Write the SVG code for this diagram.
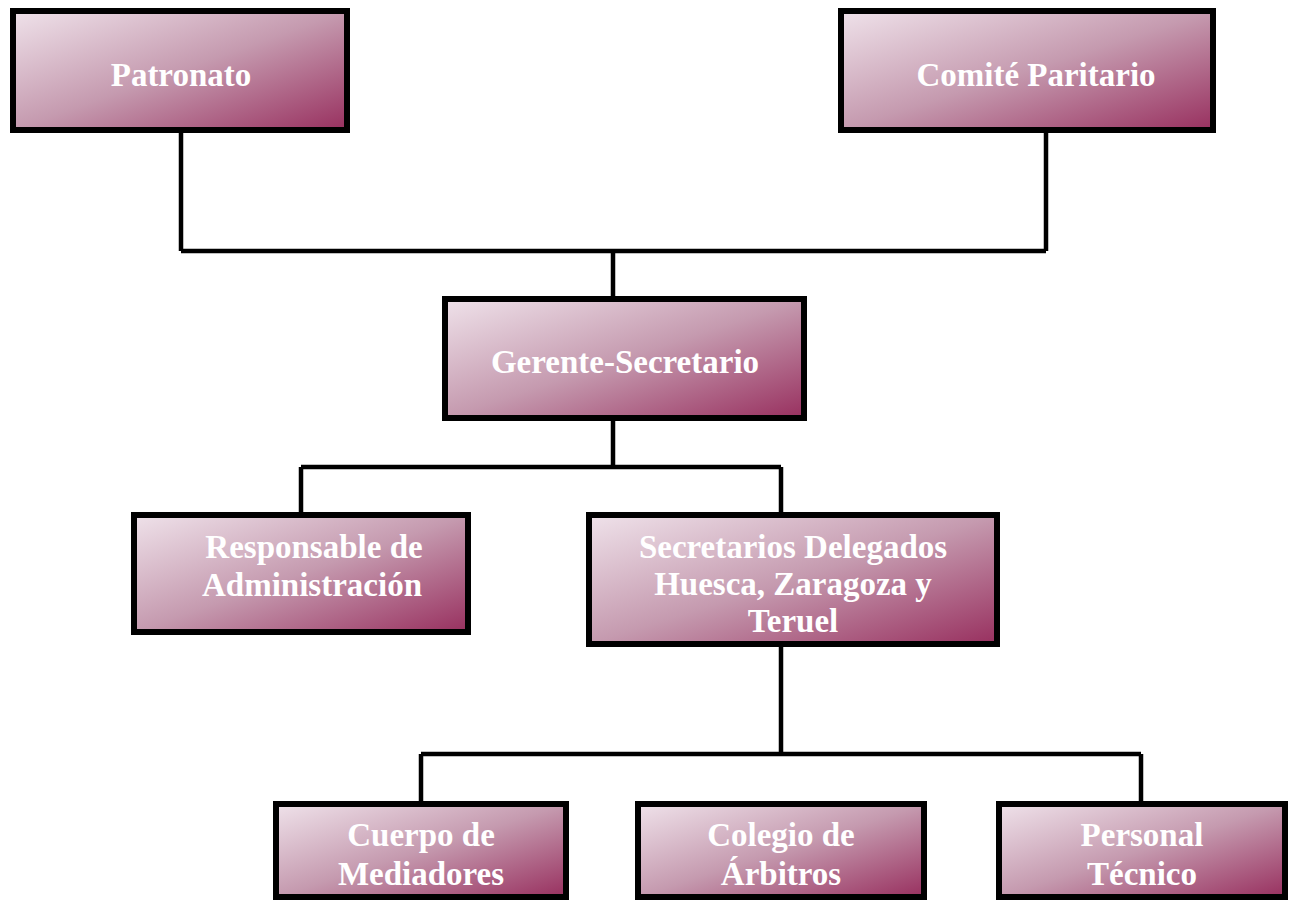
<svg xmlns="http://www.w3.org/2000/svg" width="1290" height="900" viewBox="0 0 1290 900">
<defs>
<linearGradient id="g" x1="0" y1="0" x2="1" y2="1">
<stop offset="0" stop-color="#efe2ea"/>
<stop offset="0.5" stop-color="#c59aaf"/>
<stop offset="1" stop-color="#98305f"/>
</linearGradient>
<style>
.box{fill:url(#g);stroke:#000;stroke-width:6}
.t{font-family:"Liberation Serif","Times New Roman",serif;font-weight:bold;font-size:33px;fill:#fff;text-anchor:middle}
.c{fill:none;stroke:#000;stroke-width:4.5}
</style>
</defs>
<rect width="1290" height="900" fill="#fff"/>
<g id="connectors">
<path class="c" d="M181 133V251M1046 133V251M181 251H1046M613 251V297"/>
<path class="c" d="M613 421V467M301 467H781M301 467V513M781 467V513"/>
<path class="c" d="M781 647V754M421 754H1141M421 754V801M1141 754V801"/>
</g>
<g id="patronato"><rect class="box" x="13" y="11" width="334" height="119"/><text class="t" x="181" y="86">Patronato</text></g>
<g id="comite"><rect class="box" x="841" y="11" width="372" height="119"/><text class="t" x="1036" y="86">Comité Paritario</text></g>
<g id="gerente"><rect class="box" x="445" y="299" width="359" height="119"/><text class="t" x="625" y="373">Gerente-Secretario</text></g>
<g id="responsable"><rect class="box" x="134" y="515" width="334" height="117"/><text class="t" x="314" y="558">Responsable de</text><text class="t" x="312" y="596">Administración</text></g>
<g id="secretarios"><rect class="box" x="589" y="515" width="408" height="129"/><text class="t" x="793" y="558">Secretarios Delegados</text><text class="t" x="793" y="595">Huesca, Zaragoza y</text><text class="t" x="793" y="632">Teruel</text></g>
<g id="cuerpo"><rect class="box" x="276" y="804" width="290" height="93"/><text class="t" x="421" y="846">Cuerpo de</text><text class="t" x="421" y="885">Mediadores</text></g>
<g id="colegio"><rect class="box" x="638" y="804" width="286" height="93"/><text class="t" x="781" y="846">Colegio de</text><text class="t" x="781" y="885">Árbitros</text></g>
<g id="personal"><rect class="box" x="999" y="804" width="286" height="93"/><text class="t" x="1142" y="846">Personal</text><text class="t" x="1142" y="885">Técnico</text></g>
</svg>
